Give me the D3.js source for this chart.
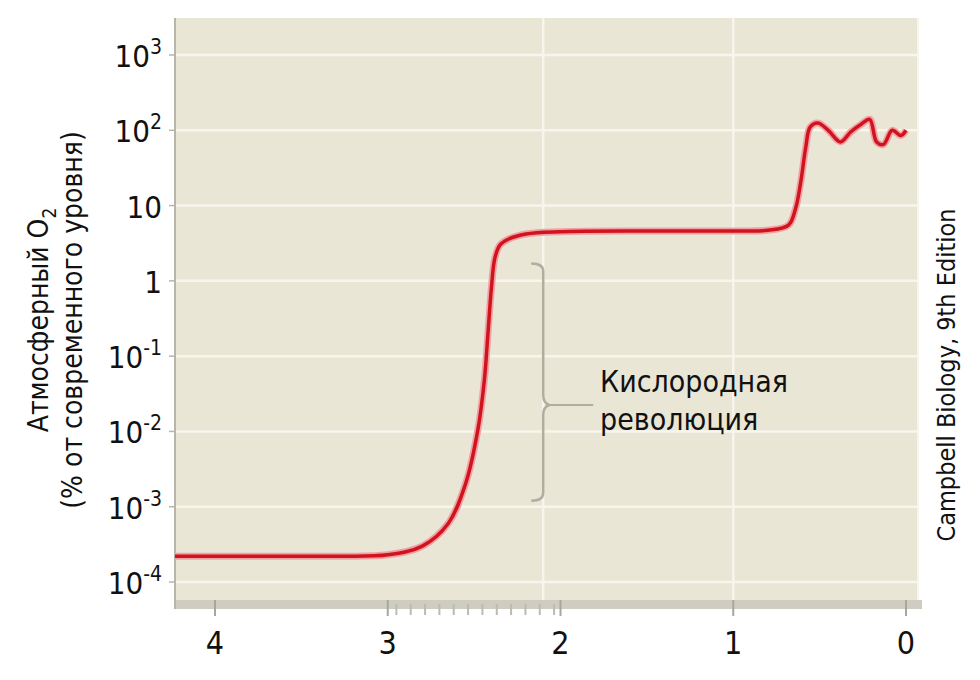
<!DOCTYPE html>
<html><head><meta charset="utf-8">
<script src="https://cdn.jsdelivr.net/npm/d3@7"></script>
<style>body{margin:0;background:#fff}svg{display:block}</style>
</head><body>
<svg id="c" width="980" height="680"></svg>
<script>
const timeGa = [4.25,3.8,3.3,3.0,2.8,2.65,2.55,2.48,2.44,2.42,2.40,2.38,2.35,2.3,2.2,2.0,1.5,1.0,0.8,0.68,0.64,0.61,0.58,0.555,0.51,0.45,0.38,0.32,0.26,0.21,0.17,0.13,0.08,0.03,0.0];
const o2Level = [2.2e-4,2.2e-4,2.2e-4,2.3e-4,3e-4,6e-4,2e-3,1e-2,0.05,0.2,0.8,2.0,3.0,3.6,4.2,4.5,4.6,4.6,4.7,5.5,9,20,60,110,125,100,70,95,120,140,70,65,100,85,100];
const xTicks = [4,3,2,1,0];
const yTicks = [1e-4,1e-3,1e-2,1e-1,1,10,100,1000];
const yLabels = [["10","-4"],["10","-3"],["10","-2"],["10","-1"],["1",""],["10",""],["10","2"],["10","3"]];
const gridX = [2.1,1];

const svg = d3.select("#c");
const x = d3.scaleLinear().domain([4,0]).range([215,906]);
const y = d3.scaleLog().domain([1e-4,1e3]).range([582,55]);
const L=175,R=918,T=18,B=600;
svg.append("rect").attr("x",L).attr("y",T).attr("width",R-L).attr("height",B-T).attr("fill","#e9e6d6");
svg.selectAll(".gy").data(yTicks).join("line").attr("x1",L).attr("x2",R)
  .attr("y1",d=>y(d)).attr("y2",d=>y(d)).attr("stroke","#f7f5ec").attr("stroke-width",2.5);
svg.selectAll(".gx").data(gridX).join("line").attr("y1",T).attr("y2",B)
  .attr("x1",d=>x(d)).attr("x2",d=>x(d)).attr("stroke","#f7f5ec").attr("stroke-width",2.5);
svg.append("line").attr("x1",R).attr("x2",R).attr("y1",T).attr("y2",B).attr("stroke","#f7f5ec").attr("stroke-width",2);
svg.append("rect").attr("x",L).attr("y",B).attr("width",R-L+4).attr("height",9).attr("fill","#cfcdc2");
svg.append("line").attr("x1",L).attr("x2",L).attr("y1",T).attr("y2",B+9).attr("stroke","#b8b6aa").attr("stroke-width",2);
svg.selectAll(".xt").data(xTicks).join("line").attr("x1",d=>x(d)).attr("x2",d=>x(d))
  .attr("y1",B).attr("y2",B+16).attr("stroke","#a9a79c").attr("stroke-width",2);
svg.selectAll(".mt").data(d3.range(2.95,2.02,-0.083)).join("line").attr("x1",d=>x(d)).attr("x2",d=>x(d))
  .attr("y1",B+4).attr("y2",B+15).attr("stroke","#bdbbb0").attr("stroke-width",2);
svg.selectAll(".yt").data(yTicks).join("line").attr("x1",L-6).attr("x2",L)
  .attr("y1",d=>y(d)).attr("y2",d=>y(d)).attr("stroke","#b8b6aa").attr("stroke-width",1.5);
const ff="'DejaVu Sans Condensed', 'Liberation Sans', Arial, sans-serif";
svg.selectAll(".xl").data(xTicks).join("text").attr("x",d=>x(d)).attr("y",654)
  .attr("text-anchor","middle").attr("font-family",ff).attr("font-size",32).attr("fill","#111").text(d=>d);
const yl = svg.selectAll(".yl").data(yTicks).join("text").attr("x",162).attr("y",d=>y(d)+12)
  .attr("text-anchor","end").attr("font-family",ff).attr("font-size",31).attr("fill","#111");
yl.each(function(d,i){
  const t=d3.select(this);
  t.append("tspan").text(yLabels[i][0]);
  if(yLabels[i][1]) t.append("tspan").attr("dy",-13).attr("font-size",21).text(yLabels[i][1]);
});
const lx = d3.line().x((d,i)=>Math.max(L, x(timeGa[i]))).y(d=>y(d)).curve(d3.curveCatmullRom.alpha(0.5));
svg.append("path").attr("d",lx(o2Level)).attr("fill","none").attr("stroke","#f2a0a6").attr("stroke-width",7);
svg.append("path").attr("d",lx(o2Level)).attr("fill","none").attr("stroke","#d0141e").attr("stroke-width",3.5);
const bx=x(2.1), b1=y(1.7), b2=y(1.2e-3), bm=405;
svg.append("path").attr("d",`M${bx-12},${b1} q12,0 12,8 L${bx},${bm-10} q0,8 6,10 q-6,2 -6,10 L${bx},${b2-8} q0,8 -12,8`)
  .attr("fill","none").attr("stroke","#b0ae9f").attr("stroke-width",2.5);
svg.append("line").attr("x1",bx+6).attr("x2",bx+50).attr("y1",bm).attr("y2",bm).attr("stroke","#b0ae9f").attr("stroke-width",2);
svg.append("text").attr("x",600).attr("y",392).attr("font-family",ff).attr("font-size",30).attr("fill","#111").text("Кислородная");
svg.append("text").attr("x",600).attr("y",430).attr("font-family",ff).attr("font-size",30).attr("fill","#111").text("революция");
const t1=svg.append("text").attr("transform","translate(48,320) rotate(-90)").attr("text-anchor","middle")
  .attr("font-family",ff).attr("font-size",28).attr("fill","#111");
t1.append("tspan").text("Атмосферный O");
t1.append("tspan").attr("dy",8).attr("font-size",19).text("2");
svg.append("text").attr("transform","translate(82,320) rotate(-90)").attr("text-anchor","middle")
  .attr("font-family",ff).attr("font-size",28).attr("fill","#111").text("(% от современного уровня)");
svg.append("text").attr("transform","translate(955,375) rotate(-90)").attr("text-anchor","middle")
  .attr("font-family",ff).attr("font-size",25).attr("fill","#111").text("Campbell Biology, 9th Edition");
</script>
</body></html>
